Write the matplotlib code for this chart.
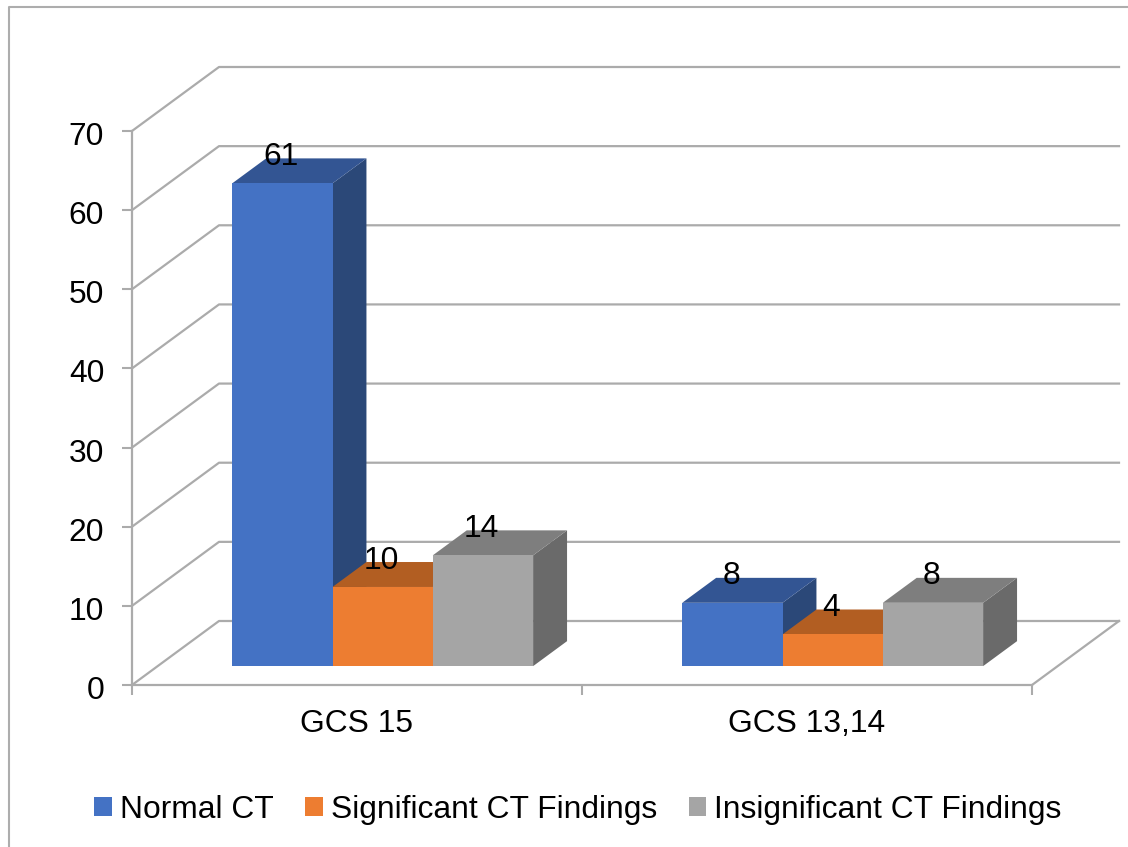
import matplotlib
matplotlib.use("Agg")
import matplotlib.pyplot as plt
from matplotlib.lines import Line2D
from matplotlib.patches import Patch, Polygon
from matplotlib.transforms import ScaledTranslation

plt.rcParams['font.family'] = ['Liberation Sans', 'DejaVu Sans']

categories = ["GCS 15", "GCS 13,14"]
series_names = ["Normal CT", "Significant CT Findings", "Insignificant CT Findings"]
normal_ct = [61, 8]
significant_ct = [10, 4]
insignificant_ct = [14, 8]
yticks = [0, 10, 20, 30, 40, 50, 60, 70]

W, H = 1128, 847
FS = 22.85
GRID = '#ABABAB'
front = ['#4472C4', '#ED7D31', '#A5A5A5']
top = ['#335593', '#B25E22', '#7E7E7E']
side = ['#2B4878', '#9E5420', '#6A6A6A']

fig = plt.figure(figsize=(W / 100, H / 100), dpi=100, facecolor='white')
ax = fig.add_axes([132 / W, 1 - 685 / H, 900 / W, 554 / H])
ax.set_xlim(0, 2)
ax.set_ylim(0, 70)
ax.patch.set_visible(False)

# oblique projection: depth z in 0..1 shifts a point right and up
DX = 87 / 450
DY = 64 / (554 / 70)


def proj(x, y, z):
    return (x + z * DX, y + z * DY)


def line(points):
    ax.add_line(Line2D(*zip(*points), color=GRID, lw=1.6, clip_on=False, zorder=1))


for v in yticks:
    line([proj(0, v, 0), proj(0, v, 1), proj(2, v, 1)])
line([proj(2, 0, 0), proj(2, 0, 1)])

# bars: gap-depth in front, then bar depth
Z0, Z1 = 0.295, 0.685
BW = 100.3 / 450
series = [normal_ct, significant_ct, insignificant_ct]
z = 3
for ci in range(len(categories)):
    for si, values in enumerate(series):
        v = values[ci]
        x0 = ci + 0.5 + (si - 1.5) * BW
        x1 = x0 + BW
        ax.add_patch(Polygon([proj(x1, 0, Z0), proj(x1, 0, Z1), proj(x1, v, Z1), proj(x1, v, Z0)],
                             fc=side[si], ec='none', clip_on=False, zorder=z))
        ax.add_patch(Polygon([proj(x0, v, Z0), proj(x1, v, Z0), proj(x1, v, Z1), proj(x0, v, Z1)],
                             fc=top[si], ec='none', clip_on=False, zorder=z))
        ax.add_patch(Polygon([proj(x0, 0, Z0), proj(x1, 0, Z0), proj(x1, v, Z0), proj(x0, v, Z0)],
                             fc=front[si], ec='none', clip_on=False, zorder=z))
        z += 1
        cx, cy = proj((x0 + x1) / 2, v, Z0)
        ax.annotate(str(v), (cx, cy), xytext=(-1, 19), textcoords='offset points',
                    ha='center', va='center', fontsize=FS, color='black', zorder=50,
                    annotation_clip=False)

for s in ('top', 'right'):
    ax.spines[s].set_visible(False)
for s in ('left', 'bottom'):
    ax.spines[s].set_color(GRID)
    ax.spines[s].set_linewidth(1.6)
    ax.spines[s].set_zorder(2)

ax.set_yticks(yticks)
ax.set_xticks([0, 1, 2])
ax.set_xticklabels([])
ax.set_xticks([0.5, 1.5], minor=True)
ax.set_xticklabels(categories, minor=True)
ax.tick_params(axis='y', length=7, width=1.5, color=GRID, labelsize=FS, pad=13)
ax.tick_params(axis='x', which='major', length=7, width=1.5, color=GRID)
ax.tick_params(axis='x', which='minor', length=0, labelsize=FS, pad=17)
for lab in ax.get_yticklabels():
    lab.set_transform(lab.get_transform() + ScaledTranslation(0, -2.5 / 100, fig.dpi_scale_trans))

handles = [Patch(fc=c, ec='none', label=n) for c, n in zip(front, series_names)]
fig.legend(handles=handles, ncol=3, frameon=False, fontsize=FS,
           loc='center', bbox_to_anchor=(578 / W, 1 - 810 / H),
           handlelength=0.54, handleheight=0.54, handletextpad=0.26,
           columnspacing=1.0, borderpad=0, borderaxespad=0)

# outer chart frame
fig.add_artist(Line2D([8.5 / W, 8.5 / W, 1], [0, 1 - 7.5 / H, 1 - 7.5 / H],
                      color='#ADADAD', lw=1.5, transform=fig.transFigure))

fig.savefig('out.png', dpi=100)
